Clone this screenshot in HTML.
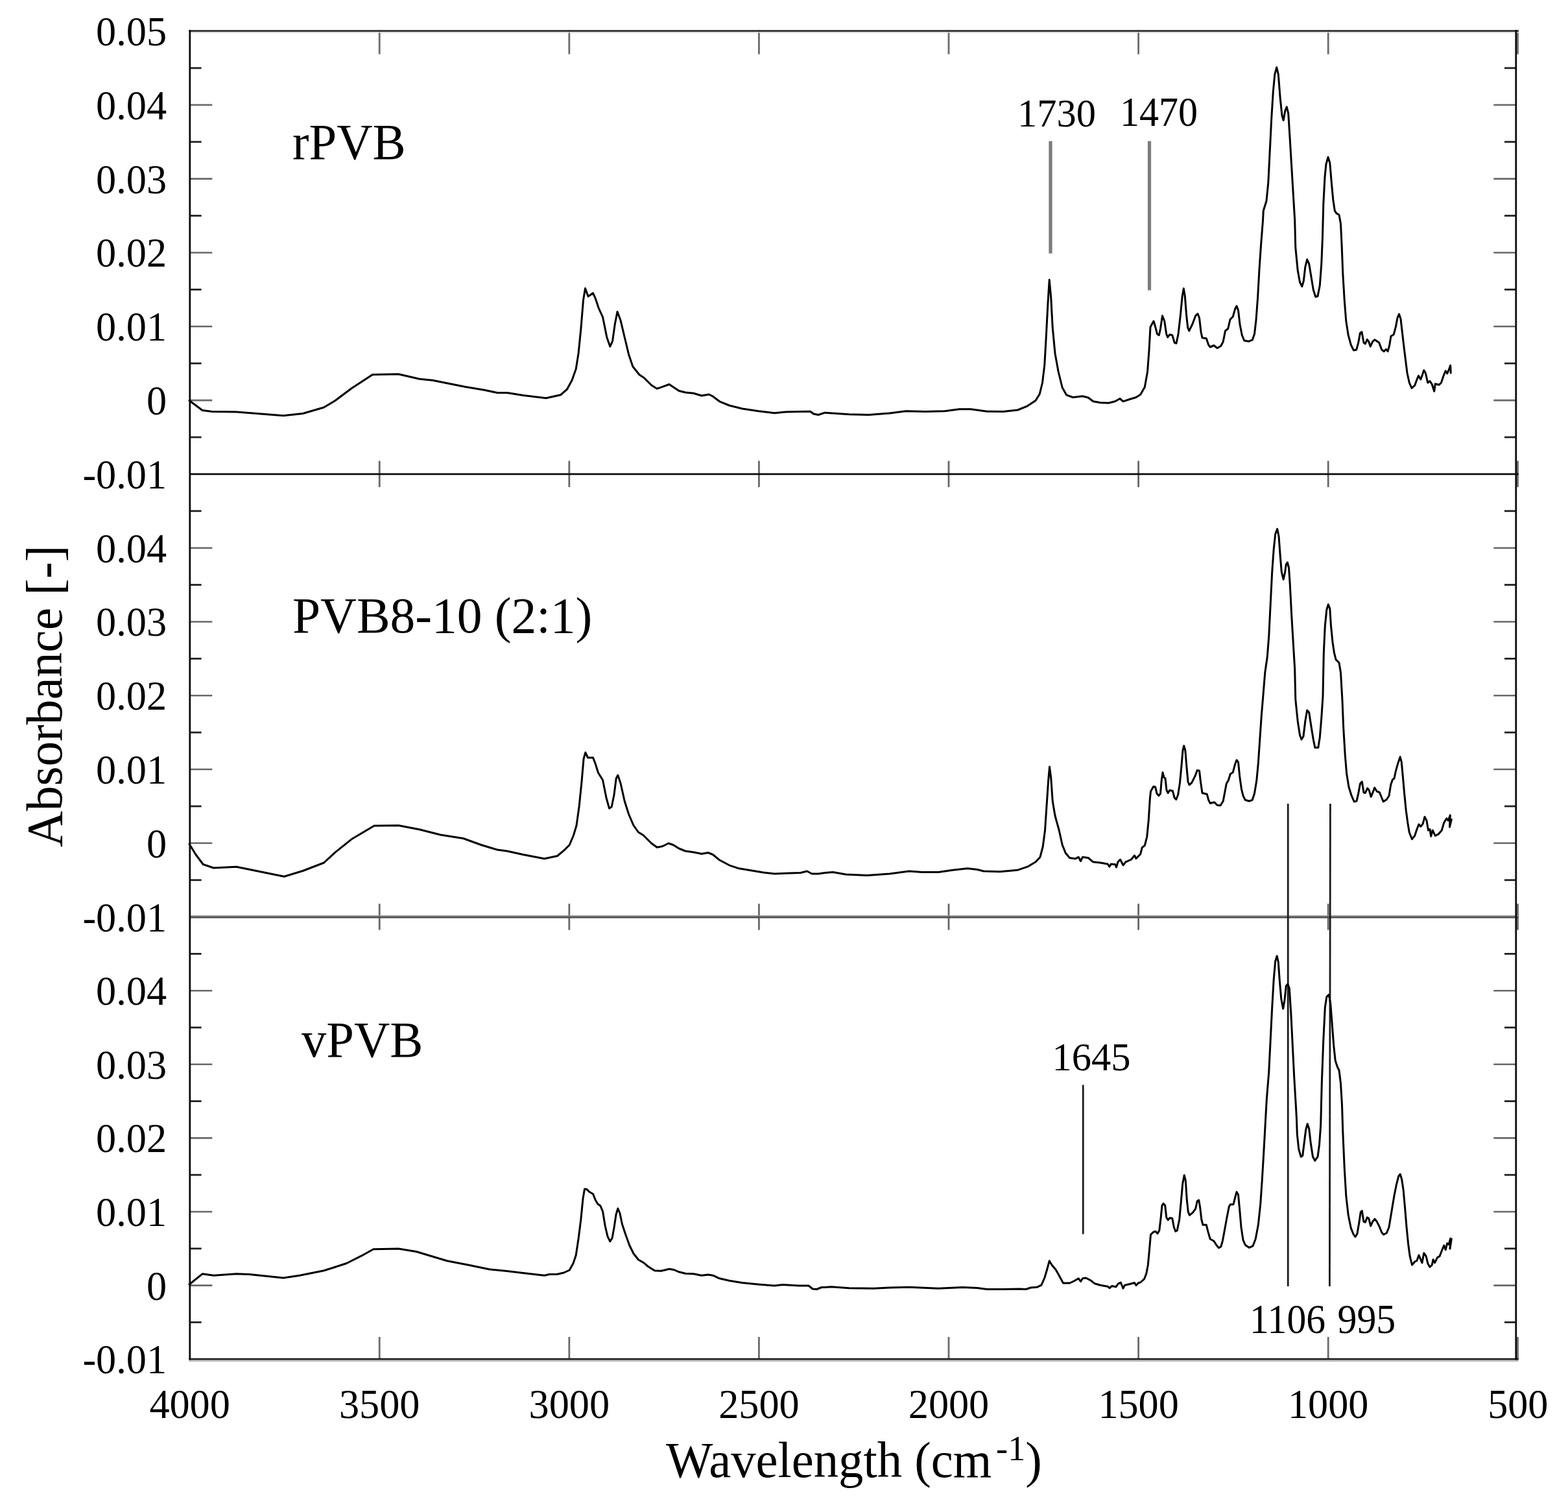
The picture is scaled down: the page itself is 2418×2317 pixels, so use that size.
<!DOCTYPE html>
<html lang="en"><head><meta charset="utf-8"><title>FTIR spectra of rPVB, PVB8-10 (2:1) and vPVB</title>
<style>html,body{margin:0;padding:0;background:#fff}body{width:2418px;height:2317px;overflow:hidden}svg{display:block}text{font-family:"Liberation Serif","DejaVu Serif",serif}</style>
</head><body>
<svg width="2418" height="2317" viewBox="0 0 2418 2317">
<rect x="0" y="0" width="2418" height="2317" fill="#fff"/>
<g fill="none"><line x1="292.8" y1="104.91" x2="310.6" y2="104.91" stroke="#222222" stroke-width="2.8"/><line x1="2337.8" y1="104.91" x2="2320.0" y2="104.91" stroke="#222222" stroke-width="2.8"/><line x1="292.8" y1="161.82" x2="327.3" y2="161.82" stroke="#686868" stroke-width="2.6"/><line x1="2337.8" y1="161.82" x2="2303.3" y2="161.82" stroke="#686868" stroke-width="2.6"/><line x1="292.8" y1="218.72" x2="310.6" y2="218.72" stroke="#222222" stroke-width="2.8"/><line x1="2337.8" y1="218.72" x2="2320.0" y2="218.72" stroke="#222222" stroke-width="2.8"/><line x1="292.8" y1="275.63" x2="327.3" y2="275.63" stroke="#686868" stroke-width="2.6"/><line x1="2337.8" y1="275.63" x2="2303.3" y2="275.63" stroke="#686868" stroke-width="2.6"/><line x1="292.8" y1="332.54" x2="310.6" y2="332.54" stroke="#222222" stroke-width="2.8"/><line x1="2337.8" y1="332.54" x2="2320.0" y2="332.54" stroke="#222222" stroke-width="2.8"/><line x1="292.8" y1="389.45" x2="327.3" y2="389.45" stroke="#686868" stroke-width="2.6"/><line x1="2337.8" y1="389.45" x2="2303.3" y2="389.45" stroke="#686868" stroke-width="2.6"/><line x1="292.8" y1="446.36" x2="310.6" y2="446.36" stroke="#222222" stroke-width="2.8"/><line x1="2337.8" y1="446.36" x2="2320.0" y2="446.36" stroke="#222222" stroke-width="2.8"/><line x1="292.8" y1="503.27" x2="327.3" y2="503.27" stroke="#686868" stroke-width="2.6"/><line x1="2337.8" y1="503.27" x2="2303.3" y2="503.27" stroke="#686868" stroke-width="2.6"/><line x1="292.8" y1="560.17" x2="310.6" y2="560.17" stroke="#222222" stroke-width="2.8"/><line x1="2337.8" y1="560.17" x2="2320.0" y2="560.17" stroke="#222222" stroke-width="2.8"/><line x1="292.8" y1="617.08" x2="327.3" y2="617.08" stroke="#686868" stroke-width="2.6"/><line x1="2337.8" y1="617.08" x2="2303.3" y2="617.08" stroke="#686868" stroke-width="2.6"/><line x1="292.8" y1="673.99" x2="310.6" y2="673.99" stroke="#222222" stroke-width="2.8"/><line x1="2337.8" y1="673.99" x2="2320.0" y2="673.99" stroke="#222222" stroke-width="2.8"/><line x1="292.8" y1="787.79" x2="310.6" y2="787.79" stroke="#222222" stroke-width="2.8"/><line x1="2337.8" y1="787.79" x2="2320.0" y2="787.79" stroke="#222222" stroke-width="2.8"/><line x1="292.8" y1="844.68" x2="327.3" y2="844.68" stroke="#686868" stroke-width="2.6"/><line x1="2337.8" y1="844.68" x2="2303.3" y2="844.68" stroke="#686868" stroke-width="2.6"/><line x1="292.8" y1="901.57" x2="310.6" y2="901.57" stroke="#222222" stroke-width="2.8"/><line x1="2337.8" y1="901.57" x2="2320.0" y2="901.57" stroke="#222222" stroke-width="2.8"/><line x1="292.8" y1="958.47" x2="327.3" y2="958.47" stroke="#686868" stroke-width="2.6"/><line x1="2337.8" y1="958.47" x2="2303.3" y2="958.47" stroke="#686868" stroke-width="2.6"/><line x1="292.8" y1="1015.36" x2="310.6" y2="1015.36" stroke="#222222" stroke-width="2.8"/><line x1="2337.8" y1="1015.36" x2="2320.0" y2="1015.36" stroke="#222222" stroke-width="2.8"/><line x1="292.8" y1="1072.25" x2="327.3" y2="1072.25" stroke="#686868" stroke-width="2.6"/><line x1="2337.8" y1="1072.25" x2="2303.3" y2="1072.25" stroke="#686868" stroke-width="2.6"/><line x1="292.8" y1="1129.14" x2="310.6" y2="1129.14" stroke="#222222" stroke-width="2.8"/><line x1="2337.8" y1="1129.14" x2="2320.0" y2="1129.14" stroke="#222222" stroke-width="2.8"/><line x1="292.8" y1="1186.03" x2="327.3" y2="1186.03" stroke="#686868" stroke-width="2.6"/><line x1="2337.8" y1="1186.03" x2="2303.3" y2="1186.03" stroke="#686868" stroke-width="2.6"/><line x1="292.8" y1="1242.92" x2="310.6" y2="1242.92" stroke="#222222" stroke-width="2.8"/><line x1="2337.8" y1="1242.92" x2="2320.0" y2="1242.92" stroke="#222222" stroke-width="2.8"/><line x1="292.8" y1="1299.82" x2="327.3" y2="1299.82" stroke="#686868" stroke-width="2.6"/><line x1="2337.8" y1="1299.82" x2="2303.3" y2="1299.82" stroke="#686868" stroke-width="2.6"/><line x1="292.8" y1="1356.71" x2="310.6" y2="1356.71" stroke="#222222" stroke-width="2.8"/><line x1="2337.8" y1="1356.71" x2="2320.0" y2="1356.71" stroke="#222222" stroke-width="2.8"/><line x1="292.8" y1="1470.40" x2="310.6" y2="1470.40" stroke="#222222" stroke-width="2.8"/><line x1="2337.8" y1="1470.40" x2="2320.0" y2="1470.40" stroke="#222222" stroke-width="2.8"/><line x1="292.8" y1="1527.20" x2="327.3" y2="1527.20" stroke="#686868" stroke-width="2.6"/><line x1="2337.8" y1="1527.20" x2="2303.3" y2="1527.20" stroke="#686868" stroke-width="2.6"/><line x1="292.8" y1="1584.00" x2="310.6" y2="1584.00" stroke="#222222" stroke-width="2.8"/><line x1="2337.8" y1="1584.00" x2="2320.0" y2="1584.00" stroke="#222222" stroke-width="2.8"/><line x1="292.8" y1="1640.80" x2="327.3" y2="1640.80" stroke="#686868" stroke-width="2.6"/><line x1="2337.8" y1="1640.80" x2="2303.3" y2="1640.80" stroke="#686868" stroke-width="2.6"/><line x1="292.8" y1="1697.60" x2="310.6" y2="1697.60" stroke="#222222" stroke-width="2.8"/><line x1="2337.8" y1="1697.60" x2="2320.0" y2="1697.60" stroke="#222222" stroke-width="2.8"/><line x1="292.8" y1="1754.40" x2="327.3" y2="1754.40" stroke="#686868" stroke-width="2.6"/><line x1="2337.8" y1="1754.40" x2="2303.3" y2="1754.40" stroke="#686868" stroke-width="2.6"/><line x1="292.8" y1="1811.20" x2="310.6" y2="1811.20" stroke="#222222" stroke-width="2.8"/><line x1="2337.8" y1="1811.20" x2="2320.0" y2="1811.20" stroke="#222222" stroke-width="2.8"/><line x1="292.8" y1="1868.00" x2="327.3" y2="1868.00" stroke="#686868" stroke-width="2.6"/><line x1="2337.8" y1="1868.00" x2="2303.3" y2="1868.00" stroke="#686868" stroke-width="2.6"/><line x1="292.8" y1="1924.80" x2="310.6" y2="1924.80" stroke="#222222" stroke-width="2.8"/><line x1="2337.8" y1="1924.80" x2="2320.0" y2="1924.80" stroke="#222222" stroke-width="2.8"/><line x1="292.8" y1="1981.60" x2="327.3" y2="1981.60" stroke="#686868" stroke-width="2.6"/><line x1="2337.8" y1="1981.60" x2="2303.3" y2="1981.60" stroke="#686868" stroke-width="2.6"/><line x1="292.8" y1="2038.40" x2="310.6" y2="2038.40" stroke="#222222" stroke-width="2.8"/><line x1="2337.8" y1="2038.40" x2="2320.0" y2="2038.40" stroke="#222222" stroke-width="2.8"/><line x1="585.20" y1="46.6" x2="585.20" y2="83.6" stroke="#6c6c6c" stroke-width="2.8"/><line x1="585.20" y1="2061.0" x2="585.20" y2="2095.2" stroke="#6c6c6c" stroke-width="2.8"/><line x1="585.20" y1="710.5" x2="585.20" y2="750.9" stroke="#686868" stroke-width="2.8"/><line x1="585.20" y1="1393.2" x2="585.20" y2="1433.6" stroke="#686868" stroke-width="2.8"/><line x1="877.80" y1="46.6" x2="877.80" y2="83.6" stroke="#6c6c6c" stroke-width="2.8"/><line x1="877.80" y1="2061.0" x2="877.80" y2="2095.2" stroke="#6c6c6c" stroke-width="2.8"/><line x1="877.80" y1="710.5" x2="877.80" y2="750.9" stroke="#686868" stroke-width="2.8"/><line x1="877.80" y1="1393.2" x2="877.80" y2="1433.6" stroke="#686868" stroke-width="2.8"/><line x1="1170.40" y1="46.6" x2="1170.40" y2="83.6" stroke="#6c6c6c" stroke-width="2.8"/><line x1="1170.40" y1="2061.0" x2="1170.40" y2="2095.2" stroke="#6c6c6c" stroke-width="2.8"/><line x1="1170.40" y1="710.5" x2="1170.40" y2="750.9" stroke="#686868" stroke-width="2.8"/><line x1="1170.40" y1="1393.2" x2="1170.40" y2="1433.6" stroke="#686868" stroke-width="2.8"/><line x1="1463.00" y1="46.6" x2="1463.00" y2="83.6" stroke="#6c6c6c" stroke-width="2.8"/><line x1="1463.00" y1="2061.0" x2="1463.00" y2="2095.2" stroke="#6c6c6c" stroke-width="2.8"/><line x1="1463.00" y1="710.5" x2="1463.00" y2="750.9" stroke="#686868" stroke-width="2.8"/><line x1="1463.00" y1="1393.2" x2="1463.00" y2="1433.6" stroke="#686868" stroke-width="2.8"/><line x1="1755.60" y1="46.6" x2="1755.60" y2="83.6" stroke="#6c6c6c" stroke-width="2.8"/><line x1="1755.60" y1="2061.0" x2="1755.60" y2="2095.2" stroke="#6c6c6c" stroke-width="2.8"/><line x1="1755.60" y1="710.5" x2="1755.60" y2="750.9" stroke="#686868" stroke-width="2.8"/><line x1="1755.60" y1="1393.2" x2="1755.60" y2="1433.6" stroke="#686868" stroke-width="2.8"/><line x1="2048.20" y1="46.6" x2="2048.20" y2="83.6" stroke="#6c6c6c" stroke-width="2.8"/><line x1="2048.20" y1="2061.0" x2="2048.20" y2="2095.2" stroke="#6c6c6c" stroke-width="2.8"/><line x1="2048.20" y1="710.5" x2="2048.20" y2="750.9" stroke="#686868" stroke-width="2.8"/><line x1="2048.20" y1="1393.2" x2="2048.20" y2="1433.6" stroke="#686868" stroke-width="2.8"/><line x1="2340.50" y1="46.6" x2="2340.50" y2="83.6" stroke="#6c6c6c" stroke-width="2.8"/><line x1="2340.50" y1="2061.0" x2="2340.50" y2="2095.2" stroke="#6c6c6c" stroke-width="2.8"/><line x1="2340.50" y1="710.5" x2="2340.50" y2="750.9" stroke="#686868" stroke-width="2.8"/><line x1="2340.50" y1="1393.2" x2="2340.50" y2="1433.6" stroke="#686868" stroke-width="2.8"/></g>
<g fill="none" stroke="#0a0a0a" stroke-width="2.8">
<line x1="291.4" y1="2098.0" x2="2341.8" y2="2098.0" stroke="#bdbdbd" stroke-width="2.6"/>
<line x1="292.8" y1="50.0" x2="2341.8" y2="50.0" stroke="#d0d0d0" stroke-width="1.4"/>
<line x1="291.4" y1="47.7" x2="2341.8" y2="47.7" stroke="#333" stroke-width="2.8"/>
<line x1="291.4" y1="2095.2" x2="2341.8" y2="2095.2" stroke="#1c1c1c"/>
<line x1="292.8" y1="730.90" x2="2341.8" y2="730.90"/>
<line x1="292.8" y1="1411.70" x2="2341.8" y2="1411.70" stroke="#9a9a9a" stroke-width="1.6"/>
<line x1="292.8" y1="1414.00" x2="2341.8" y2="1414.00" stroke="#505050" stroke-width="2.8"/>
<line x1="292.8" y1="46.3" x2="292.8" y2="2096.6"/>
<line x1="2337.8" y1="46.3" x2="2337.8" y2="2096.6"/>
</g>
<text transform="translate(257.0 69.9) scale(0.980 1)" font-size="63.5" text-anchor="end" fill="#000000">0.05</text>
<text transform="translate(257.0 183.7) scale(0.980 1)" font-size="63.5" text-anchor="end" fill="#000000">0.04</text>
<text transform="translate(257.0 297.5) scale(0.980 1)" font-size="63.5" text-anchor="end" fill="#000000">0.03</text>
<text transform="translate(257.0 411.3) scale(0.980 1)" font-size="63.5" text-anchor="end" fill="#000000">0.02</text>
<text transform="translate(257.0 525.2) scale(0.980 1)" font-size="63.5" text-anchor="end" fill="#000000">0.01</text>
<text transform="translate(257.0 639.0) scale(0.980 1)" font-size="63.5" text-anchor="end" fill="#000000">0</text>
<text transform="translate(257.0 752.8) scale(0.980 1)" font-size="63.5" text-anchor="end" fill="#000000">-0.01</text>
<text transform="translate(257.0 866.6) scale(0.980 1)" font-size="63.5" text-anchor="end" fill="#000000">0.04</text>
<text transform="translate(257.0 980.4) scale(0.980 1)" font-size="63.5" text-anchor="end" fill="#000000">0.03</text>
<text transform="translate(257.0 1094.2) scale(0.980 1)" font-size="63.5" text-anchor="end" fill="#000000">0.02</text>
<text transform="translate(257.0 1207.9) scale(0.980 1)" font-size="63.5" text-anchor="end" fill="#000000">0.01</text>
<text transform="translate(257.0 1321.7) scale(0.980 1)" font-size="63.5" text-anchor="end" fill="#000000">0</text>
<text transform="translate(257.0 1435.5) scale(0.980 1)" font-size="63.5" text-anchor="end" fill="#000000">-0.01</text>
<text transform="translate(257.0 1549.1) scale(0.980 1)" font-size="63.5" text-anchor="end" fill="#000000">0.04</text>
<text transform="translate(257.0 1662.7) scale(0.980 1)" font-size="63.5" text-anchor="end" fill="#000000">0.03</text>
<text transform="translate(257.0 1776.3) scale(0.980 1)" font-size="63.5" text-anchor="end" fill="#000000">0.02</text>
<text transform="translate(257.0 1889.9) scale(0.980 1)" font-size="63.5" text-anchor="end" fill="#000000">0.01</text>
<text transform="translate(257.0 2003.5) scale(0.980 1)" font-size="63.5" text-anchor="end" fill="#000000">0</text>
<text transform="translate(257.0 2117.1) scale(0.980 1)" font-size="63.5" text-anchor="end" fill="#000000">-0.01</text>
<text transform="translate(292.6 2186.4) scale(0.980 1)" font-size="63.5" text-anchor="middle" fill="#000000">4000</text>
<text transform="translate(585.2 2186.4) scale(0.980 1)" font-size="63.5" text-anchor="middle" fill="#000000">3500</text>
<text transform="translate(877.8 2186.4) scale(0.980 1)" font-size="63.5" text-anchor="middle" fill="#000000">3000</text>
<text transform="translate(1170.4 2186.4) scale(0.980 1)" font-size="63.5" text-anchor="middle" fill="#000000">2500</text>
<text transform="translate(1463.0 2186.4) scale(0.980 1)" font-size="63.5" text-anchor="middle" fill="#000000">2000</text>
<text transform="translate(1755.6 2186.4) scale(0.980 1)" font-size="63.5" text-anchor="middle" fill="#000000">1500</text>
<text transform="translate(2048.2 2186.4) scale(0.980 1)" font-size="63.5" text-anchor="middle" fill="#000000">1000</text>
<text transform="translate(2340.8 2186.4) scale(0.980 1)" font-size="63.5" text-anchor="middle" fill="#000000">500</text>
<text transform="translate(94.5 1073.3) rotate(-90) scale(0.978 1)" font-size="79.0" text-anchor="middle" fill="#000">Absorbance [-]</text>
<text transform="translate(1027 2276.5) scale(0.970 1)" font-size="79.0" fill="#000">Wavelength (cm<tspan font-size="56" dy="-25.5" dx="7">-1</tspan><tspan dy="25.5" dx="0">)</tspan></text>
<text transform="translate(451.0 244.5) scale(0.970 1)" font-size="79.0" text-anchor="start" fill="#000">rPVB</text>
<text transform="translate(451.0 975.2) scale(0.980 1)" font-size="79.0" text-anchor="start" fill="#000">PVB8-10 (2:1)</text>
<text transform="translate(465.0 1629.0) scale(0.970 1)" font-size="79.0" text-anchor="start" fill="#000">vPVB</text>
<text transform="translate(1569.0 195.0) scale(1.000 1)" font-size="60.5" text-anchor="start" fill="#000000">1730</text>
<text transform="translate(1727.0 194.0) scale(0.945 1)" font-size="63.5" text-anchor="start" fill="#000000">1470</text>
<text transform="translate(1622.5 1649.5) scale(1.000 1)" font-size="60.5" text-anchor="start" fill="#000000">1645</text>
<text transform="translate(1927.0 2055.4) scale(0.940 1)" font-size="63.5" text-anchor="start" fill="#000000">1106</text>
<text transform="translate(2062.5 2055.2) scale(0.935 1)" font-size="64.0" text-anchor="start" fill="#000000">995</text>
<g fill="none" stroke="#7c7c7c" stroke-width="5.2">
<line x1="1620" y1="217.5" x2="1620" y2="390.7"/>
<line x1="1772.5" y1="217.5" x2="1772.5" y2="447.5"/>
</g>
<g fill="none" stroke="#1a1a1a" stroke-width="2.8">
<line x1="1670.2" y1="1672.5" x2="1670.2" y2="1902.5"/>
<line x1="1986.2" y1="1239" x2="1986.2" y2="1983"/>
<line x1="2051.4" y1="1239" x2="2050.4" y2="1983"/>
</g>
<g fill="none" stroke="#000" stroke-width="3.0" stroke-linejoin="round" stroke-linecap="round">
<path d="M292.0 617.5 L312.0 632.5 L327.0 634.5 L364.5 635.0 L437.0 640.8 L467.0 637.5 L499.5 628.0 L517.0 617.5 L542.0 598.8 L574.5 577.5 L614.5 576.8 L647.0 584.2 L667.0 586.2 L717.0 596.2 L747.0 601.2 L767.0 605.5 L782.0 605.5 L807.0 609.5 L842.0 613.8 L864.5 608.8 L874.5 600.0 L882.0 586.2 L888.2 568.8 L892.0 545.0 L895.8 507.5 L899.5 462.5 L902.5 444.5 L907.0 457.0 L914.5 451.8 L918.2 460.0 L923.2 475.0 L929.5 488.8 L935.8 520.0 L940.8 534.2 L944.5 526.2 L948.2 500.0 L952.0 480.5 L957.0 493.8 L963.2 520.0 L969.5 546.2 L975.8 565.0 L985.8 577.5 L993.2 582.5 L1004.5 593.8 L1013.2 599.2 L1022.0 596.2 L1032.0 592.5 L1039.5 597.5 L1047.0 602.5 L1057.0 605.0 L1069.5 606.2 L1082.0 610.0 L1093.2 608.0 L1099.5 611.2 L1109.5 618.8 L1124.5 625.0 L1144.5 630.0 L1169.5 633.8 L1194.5 636.8 L1212.0 635.0 L1249.5 634.2 L1254.5 638.0 L1262.0 639.5 L1272.0 636.2 L1309.5 638.8 L1339.5 639.5 L1372.0 637.0 L1397.0 633.8 L1427.0 634.5 L1457.0 633.8 L1479.5 630.8 L1497.0 630.8 L1522.0 634.2 L1547.0 634.5 L1569.5 632.0 L1584.5 625.8 L1597.0 617.5 L1603.2 607.5 L1607.5 590.0 L1610.8 562.5 L1613.2 520.0 L1615.8 470.0 L1618.2 431.2 L1620.8 460.0 L1623.2 505.0 L1627.0 545.0 L1632.0 572.5 L1638.2 597.5 L1644.5 608.8 L1654.5 612.5 L1669.5 610.8 L1678.2 613.0 L1685.8 618.8 L1697.0 620.8 L1709.5 621.2 L1719.5 618.8 L1727.0 614.5 L1732.0 618.8 L1742.0 615.5 L1752.0 612.5 L1758.7 608.3 L1765.3 596.7 L1769.5 573.3 L1772.0 540.0 L1774.0 504.2 L1779.0 495.0 L1782.0 505.0 L1784.5 515.0 L1787.3 516.7 L1789.5 506.7 L1792.5 486.7 L1795.7 495.0 L1798.7 515.0 L1800.7 520.0 L1803.7 515.8 L1807.8 516.7 L1811.2 528.3 L1814.0 529.2 L1817.0 515.0 L1820.3 486.7 L1823.2 456.7 L1825.3 444.7 L1827.3 456.7 L1829.5 485.0 L1831.7 505.0 L1833.7 510.0 L1838.7 500.0 L1843.7 486.7 L1847.0 483.7 L1849.5 490.0 L1852.0 511.7 L1854.0 520.8 L1860.3 521.7 L1863.7 531.7 L1866.2 535.0 L1872.0 532.5 L1877.0 536.7 L1882.8 533.3 L1886.2 526.7 L1889.5 510.0 L1893.7 506.7 L1897.0 492.5 L1901.2 488.3 L1904.5 476.7 L1907.0 471.7 L1909.5 478.3 L1912.0 500.0 L1915.3 516.7 L1918.7 525.0 L1925.3 526.3 L1931.2 524.2 L1934.5 515.0 L1937.0 493.3 L1939.5 460.0 L1942.0 415.0 L1944.5 378.3 L1947.5 340.0 L1948.3 324.7 L1953.0 309.7 L1955.8 281.3 L1958.3 231.3 L1960.8 181.3 L1963.3 141.3 L1965.8 114.7 L1968.7 103.8 L1971.3 114.7 L1974.2 151.3 L1977.0 178.0 L1979.2 185.5 L1981.7 171.3 L1984.2 164.7 L1986.7 174.7 L1989.2 214.7 L1991.7 256.3 L1994.2 298.0 L1996.7 339.7 L1997.8 381.7 L2001.2 416.7 L2004.5 435.0 L2007.8 441.7 L2010.3 433.3 L2012.8 411.7 L2015.7 400.0 L2018.7 406.7 L2022.0 426.7 L2025.3 446.7 L2028.7 457.5 L2032.0 456.7 L2035.3 440.0 L2037.8 406.7 L2039.5 365.0 L2040.8 314.7 L2043.0 273.0 L2045.0 253.0 L2048.0 242.2 L2050.8 251.3 L2053.3 281.3 L2055.8 308.0 L2058.3 324.7 L2060.8 328.8 L2065.0 331.3 L2067.5 344.7 L2069.2 380.0 L2070.8 421.7 L2073.3 463.3 L2075.8 495.0 L2079.2 516.7 L2083.3 531.7 L2087.5 540.0 L2091.7 539.2 L2094.7 528.3 L2097.5 513.3 L2100.0 511.7 L2103.0 528.3 L2105.3 530.0 L2108.3 523.3 L2110.8 526.7 L2113.3 534.2 L2116.7 526.7 L2120.0 523.7 L2126.7 528.3 L2130.8 539.2 L2134.2 541.7 L2137.5 538.3 L2140.0 541.7 L2142.5 533.3 L2145.0 518.3 L2149.2 515.8 L2152.5 503.3 L2155.0 490.0 L2157.5 484.2 L2160.0 491.7 L2162.5 513.3 L2165.0 535.0 L2167.5 555.0 L2170.0 575.0 L2173.3 590.0 L2177.0 598.3 L2181.7 594.2 L2185.0 585.0 L2187.5 579.2 L2190.8 585.0 L2193.3 578.3 L2195.8 570.8 L2198.3 575.0 L2201.7 590.0 L2205.0 587.5 L2208.3 592.5 L2211.7 603.3 L2213.3 591.7 L2219.2 593.3 L2222.5 590.0 L2225.8 580.0 L2229.2 571.7 L2231.7 575.8 L2234.2 570.0 L2236.7 563.3 L2237.2 575.0"/>
<path d="M292.0 1301.2 L302.0 1317.5 L313.2 1332.5 L329.5 1338.0 L364.5 1336.2 L438.2 1351.2 L467.0 1342.5 L499.5 1330.0 L517.0 1313.8 L542.0 1293.8 L577.0 1273.0 L614.5 1272.5 L647.0 1278.8 L679.5 1287.0 L714.5 1292.5 L742.0 1302.5 L767.0 1310.0 L782.0 1312.0 L807.0 1317.5 L839.5 1323.8 L859.5 1319.5 L869.5 1311.2 L878.2 1302.5 L884.5 1287.5 L889.0 1272.5 L893.2 1242.5 L897.0 1205.0 L900.0 1170.0 L902.8 1160.0 L906.5 1168.0 L914.5 1168.0 L918.2 1177.5 L922.5 1191.2 L929.5 1202.5 L935.0 1230.0 L939.5 1246.2 L943.2 1243.8 L947.0 1225.0 L950.2 1200.0 L952.8 1195.0 L957.0 1207.5 L963.2 1235.0 L969.5 1255.0 L977.0 1272.5 L984.5 1283.0 L992.0 1287.5 L1004.5 1300.0 L1013.2 1306.2 L1022.0 1304.5 L1030.8 1300.0 L1038.2 1302.5 L1047.0 1308.0 L1057.0 1312.0 L1069.5 1313.8 L1082.0 1316.2 L1092.0 1314.5 L1099.5 1317.5 L1109.5 1325.8 L1124.5 1333.8 L1139.5 1338.8 L1162.0 1342.5 L1177.0 1345.0 L1194.5 1347.0 L1212.0 1346.2 L1234.5 1345.5 L1244.5 1343.0 L1252.0 1347.0 L1262.0 1347.0 L1272.0 1345.5 L1284.5 1344.5 L1304.5 1348.0 L1337.0 1349.5 L1372.0 1347.0 L1402.0 1343.0 L1422.0 1344.5 L1447.0 1344.5 L1469.5 1341.2 L1492.0 1338.8 L1507.0 1340.5 L1517.0 1343.0 L1542.0 1343.8 L1569.5 1341.2 L1584.5 1336.2 L1597.0 1328.8 L1604.0 1321.2 L1608.2 1305.0 L1611.5 1280.0 L1614.0 1242.5 L1616.5 1205.0 L1618.5 1182.0 L1620.8 1200.0 L1623.2 1235.0 L1627.0 1257.5 L1633.2 1280.0 L1638.2 1302.5 L1643.2 1315.0 L1649.5 1322.5 L1658.2 1323.8 L1663.2 1321.2 L1666.5 1327.5 L1669.5 1321.2 L1678.2 1322.5 L1685.8 1328.8 L1697.0 1330.0 L1708.2 1332.0 L1710.8 1336.2 L1713.2 1332.0 L1719.5 1332.5 L1721.5 1337.0 L1724.0 1328.8 L1727.5 1325.0 L1732.0 1333.8 L1735.8 1328.8 L1744.5 1325.0 L1749.5 1318.8 L1752.0 1323.5 L1758.7 1316.7 L1761.2 1306.7 L1765.3 1303.3 L1768.7 1290.0 L1771.2 1265.0 L1773.3 1231.7 L1774.5 1220.0 L1778.7 1212.5 L1781.7 1213.3 L1784.0 1223.3 L1787.0 1226.7 L1789.5 1223.3 L1791.2 1203.3 L1793.0 1190.8 L1795.0 1198.3 L1797.0 1200.0 L1799.0 1218.3 L1801.2 1222.5 L1803.7 1218.3 L1808.3 1219.2 L1811.2 1230.0 L1813.7 1232.5 L1816.7 1225.0 L1819.5 1206.7 L1822.0 1180.0 L1824.0 1156.7 L1825.7 1149.7 L1827.8 1156.7 L1830.0 1183.3 L1832.0 1205.0 L1834.0 1210.0 L1837.8 1206.7 L1842.8 1196.7 L1846.2 1187.5 L1849.5 1188.3 L1851.7 1206.7 L1854.0 1222.5 L1861.2 1224.2 L1863.7 1233.3 L1866.2 1238.3 L1872.8 1236.7 L1877.0 1241.3 L1882.0 1241.7 L1886.2 1235.0 L1888.7 1221.7 L1891.2 1208.3 L1894.5 1202.5 L1897.3 1193.3 L1901.2 1190.8 L1904.5 1178.3 L1907.0 1171.7 L1909.5 1175.0 L1911.7 1196.7 L1914.5 1216.7 L1917.0 1226.7 L1920.3 1233.3 L1926.2 1235.0 L1931.2 1233.3 L1934.5 1223.3 L1937.8 1203.3 L1940.3 1176.7 L1942.8 1140.0 L1945.3 1103.3 L1947.8 1073.3 L1950.8 1036.7 L1954.2 1013.3 L1956.7 981.7 L1959.2 931.7 L1961.7 881.7 L1964.2 846.7 L1966.7 823.3 L1969.7 815.3 L1972.0 826.7 L1974.2 856.7 L1976.3 881.7 L1979.2 893.3 L1981.7 881.7 L1983.3 870.0 L1985.3 867.0 L1987.5 875.0 L1989.2 900.0 L1991.7 948.3 L1994.2 990.0 L1996.7 1031.7 L1997.8 1078.3 L2001.2 1111.7 L2004.5 1133.3 L2007.0 1140.0 L2010.0 1135.0 L2012.8 1111.7 L2015.7 1095.0 L2018.7 1098.3 L2022.0 1120.0 L2025.3 1140.0 L2027.8 1152.5 L2032.8 1152.5 L2035.3 1136.7 L2037.8 1106.7 L2040.0 1073.3 L2041.3 1006.7 L2043.3 965.0 L2045.8 940.0 L2048.3 931.7 L2050.8 938.3 L2052.5 965.0 L2055.0 990.0 L2057.5 1006.7 L2060.0 1016.7 L2065.0 1021.7 L2067.5 1036.7 L2070.0 1080.0 L2071.7 1121.7 L2074.2 1163.3 L2076.7 1193.3 L2080.0 1213.3 L2084.2 1226.7 L2088.3 1235.8 L2092.0 1235.0 L2094.7 1223.3 L2097.5 1208.3 L2100.3 1205.0 L2103.0 1221.7 L2105.3 1222.5 L2108.7 1215.0 L2111.3 1218.3 L2114.2 1228.3 L2117.0 1221.7 L2119.7 1214.2 L2123.3 1220.0 L2127.5 1221.7 L2130.8 1230.0 L2133.3 1235.8 L2138.3 1232.5 L2142.0 1226.7 L2144.7 1210.0 L2147.5 1201.7 L2150.0 1200.0 L2152.5 1188.3 L2155.8 1176.7 L2159.2 1166.7 L2161.3 1175.0 L2163.3 1196.7 L2165.8 1225.0 L2168.3 1250.0 L2170.8 1268.3 L2173.3 1283.3 L2177.5 1293.7 L2181.7 1288.3 L2185.0 1278.3 L2188.0 1270.8 L2190.8 1274.2 L2194.2 1270.0 L2197.0 1259.2 L2200.0 1265.0 L2202.5 1280.0 L2205.0 1278.3 L2206.7 1289.2 L2209.2 1280.0 L2213.3 1288.3 L2218.3 1285.8 L2223.3 1280.0 L2226.7 1268.3 L2230.8 1261.7 L2233.3 1265.0 L2236.3 1256.7 L2235.5 1275.0 L2238.3 1263.3"/>
<path d="M292.0 1980.0 L312.0 1963.8 L329.5 1966.2 L364.5 1963.8 L384.5 1964.5 L437.0 1970.0 L462.0 1966.2 L499.5 1958.8 L534.5 1947.5 L557.0 1936.2 L575.8 1925.8 L614.5 1925.0 L642.0 1929.5 L689.5 1943.8 L722.0 1950.0 L754.5 1956.8 L782.0 1959.5 L807.0 1962.5 L839.5 1966.2 L847.0 1964.5 L859.5 1964.2 L869.5 1962.0 L878.2 1958.0 L884.0 1947.5 L888.2 1935.0 L892.0 1910.0 L895.8 1880.0 L899.0 1847.5 L901.5 1833.0 L904.5 1833.2 L909.0 1837.5 L914.5 1840.5 L918.2 1850.0 L922.0 1856.2 L925.8 1858.8 L929.5 1867.5 L933.2 1890.0 L937.0 1906.2 L940.8 1913.8 L944.0 1908.8 L947.0 1892.5 L950.0 1872.5 L952.8 1863.0 L955.8 1870.0 L959.5 1887.5 L964.5 1902.5 L970.8 1920.0 L977.0 1932.5 L984.5 1942.0 L992.0 1946.2 L999.5 1952.5 L1009.5 1958.8 L1019.5 1959.2 L1032.0 1956.2 L1039.5 1957.5 L1047.0 1960.8 L1057.0 1963.2 L1069.5 1963.8 L1082.0 1966.2 L1092.0 1965.0 L1099.5 1966.2 L1109.5 1970.8 L1124.5 1974.2 L1144.5 1977.5 L1169.5 1980.0 L1194.5 1982.0 L1207.0 1980.5 L1232.0 1982.0 L1247.0 1982.0 L1253.2 1987.0 L1259.5 1987.5 L1267.0 1984.5 L1272.0 1984.5 L1282.0 1983.8 L1309.5 1985.8 L1347.0 1986.2 L1372.0 1985.0 L1402.0 1984.2 L1447.0 1986.2 L1484.5 1984.5 L1507.0 1985.5 L1522.0 1987.5 L1547.0 1987.5 L1572.0 1987.0 L1582.0 1987.5 L1589.5 1985.0 L1599.5 1984.2 L1605.8 1981.2 L1610.8 1970.0 L1614.5 1957.5 L1618.2 1943.8 L1622.0 1950.0 L1628.2 1957.5 L1633.2 1966.2 L1639.5 1978.0 L1649.5 1978.0 L1657.0 1974.5 L1663.2 1970.8 L1666.5 1975.5 L1669.5 1970.8 L1674.5 1970.0 L1682.0 1973.8 L1688.2 1978.8 L1697.0 1981.2 L1708.2 1983.2 L1711.2 1985.8 L1714.5 1982.5 L1720.8 1983.8 L1724.5 1978.8 L1728.2 1977.0 L1732.0 1986.2 L1734.5 1981.2 L1742.0 1979.5 L1749.5 1977.5 L1752.0 1981.5 L1755.8 1977.5 L1758.7 1977.0 L1764.5 1971.7 L1767.8 1963.3 L1770.3 1950.0 L1772.3 1928.3 L1774.5 1903.3 L1778.7 1899.2 L1782.0 1898.3 L1785.0 1901.7 L1787.8 1896.7 L1790.0 1878.3 L1792.0 1858.3 L1794.0 1855.3 L1796.7 1858.3 L1798.7 1876.7 L1801.2 1880.8 L1804.0 1877.5 L1807.8 1878.3 L1810.3 1891.7 L1812.8 1898.3 L1815.3 1896.7 L1818.7 1880.0 L1821.2 1853.3 L1823.7 1825.0 L1826.2 1811.7 L1828.3 1820.0 L1830.3 1850.0 L1832.3 1868.3 L1834.5 1873.3 L1839.5 1869.2 L1843.7 1863.3 L1846.2 1851.7 L1848.7 1850.0 L1850.7 1861.7 L1852.8 1880.0 L1855.0 1888.3 L1860.3 1888.3 L1862.8 1898.3 L1866.2 1910.0 L1872.0 1913.3 L1876.2 1920.0 L1879.5 1923.7 L1882.8 1921.7 L1885.3 1913.3 L1888.7 1895.0 L1892.0 1876.7 L1895.3 1860.0 L1897.3 1856.7 L1902.0 1856.7 L1904.5 1846.7 L1907.0 1837.5 L1909.5 1841.7 L1911.7 1865.0 L1914.0 1891.7 L1917.0 1911.7 L1920.3 1919.2 L1926.2 1923.3 L1932.0 1920.8 L1936.2 1910.0 L1940.3 1888.3 L1943.7 1856.7 L1946.2 1820.0 L1948.7 1778.3 L1951.0 1736.7 L1953.3 1695.0 L1956.7 1653.3 L1959.2 1603.3 L1961.7 1553.3 L1964.2 1510.0 L1966.7 1481.7 L1969.2 1473.7 L1971.3 1483.3 L1973.3 1511.7 L1975.8 1540.0 L1978.7 1555.0 L1980.8 1543.3 L1983.3 1520.0 L1985.8 1517.0 L1988.3 1523.3 L1990.8 1561.7 L1993.3 1611.7 L1995.8 1661.7 L1998.3 1703.3 L1999.5 1725.0 L2000.3 1748.3 L2002.8 1771.7 L2006.2 1783.3 L2008.7 1781.7 L2011.2 1761.7 L2013.7 1741.7 L2016.2 1732.5 L2018.7 1740.0 L2021.2 1761.7 L2024.5 1783.3 L2027.8 1789.2 L2032.0 1783.3 L2034.5 1765.0 L2036.7 1735.0 L2038.3 1670.0 L2040.8 1603.3 L2043.3 1553.3 L2045.8 1536.7 L2049.2 1533.3 L2051.7 1546.7 L2054.2 1578.3 L2056.7 1611.7 L2059.2 1635.0 L2062.5 1645.0 L2065.0 1650.0 L2067.5 1670.0 L2069.5 1703.3 L2070.8 1745.0 L2073.3 1801.7 L2075.8 1843.3 L2079.2 1873.3 L2083.3 1893.3 L2087.5 1903.3 L2090.0 1906.7 L2093.0 1901.7 L2095.8 1885.0 L2098.3 1868.3 L2100.3 1866.7 L2103.0 1883.3 L2105.3 1884.2 L2108.3 1876.7 L2110.8 1878.3 L2113.7 1890.0 L2116.7 1883.3 L2120.0 1879.2 L2123.3 1883.3 L2127.5 1891.7 L2130.8 1900.0 L2133.7 1903.3 L2138.3 1900.8 L2142.0 1891.7 L2145.0 1873.3 L2147.5 1858.3 L2150.0 1843.3 L2153.3 1826.7 L2156.7 1813.3 L2159.2 1810.0 L2161.7 1818.3 L2164.2 1835.0 L2166.7 1863.3 L2169.2 1893.3 L2171.7 1918.3 L2174.2 1936.7 L2177.5 1950.0 L2181.7 1945.0 L2185.0 1943.3 L2188.0 1935.0 L2190.8 1941.7 L2193.0 1946.7 L2195.8 1931.7 L2199.2 1936.7 L2202.0 1948.3 L2205.0 1953.3 L2208.3 1950.0 L2210.0 1941.7 L2212.5 1946.7 L2216.7 1938.3 L2220.0 1936.7 L2223.3 1928.3 L2226.7 1920.0 L2229.2 1926.7 L2231.7 1916.7 L2234.2 1918.3 L2236.7 1909.2 L2236.0 1925.0 L2238.3 1910.0"/>
</g>
</svg></body></html>
